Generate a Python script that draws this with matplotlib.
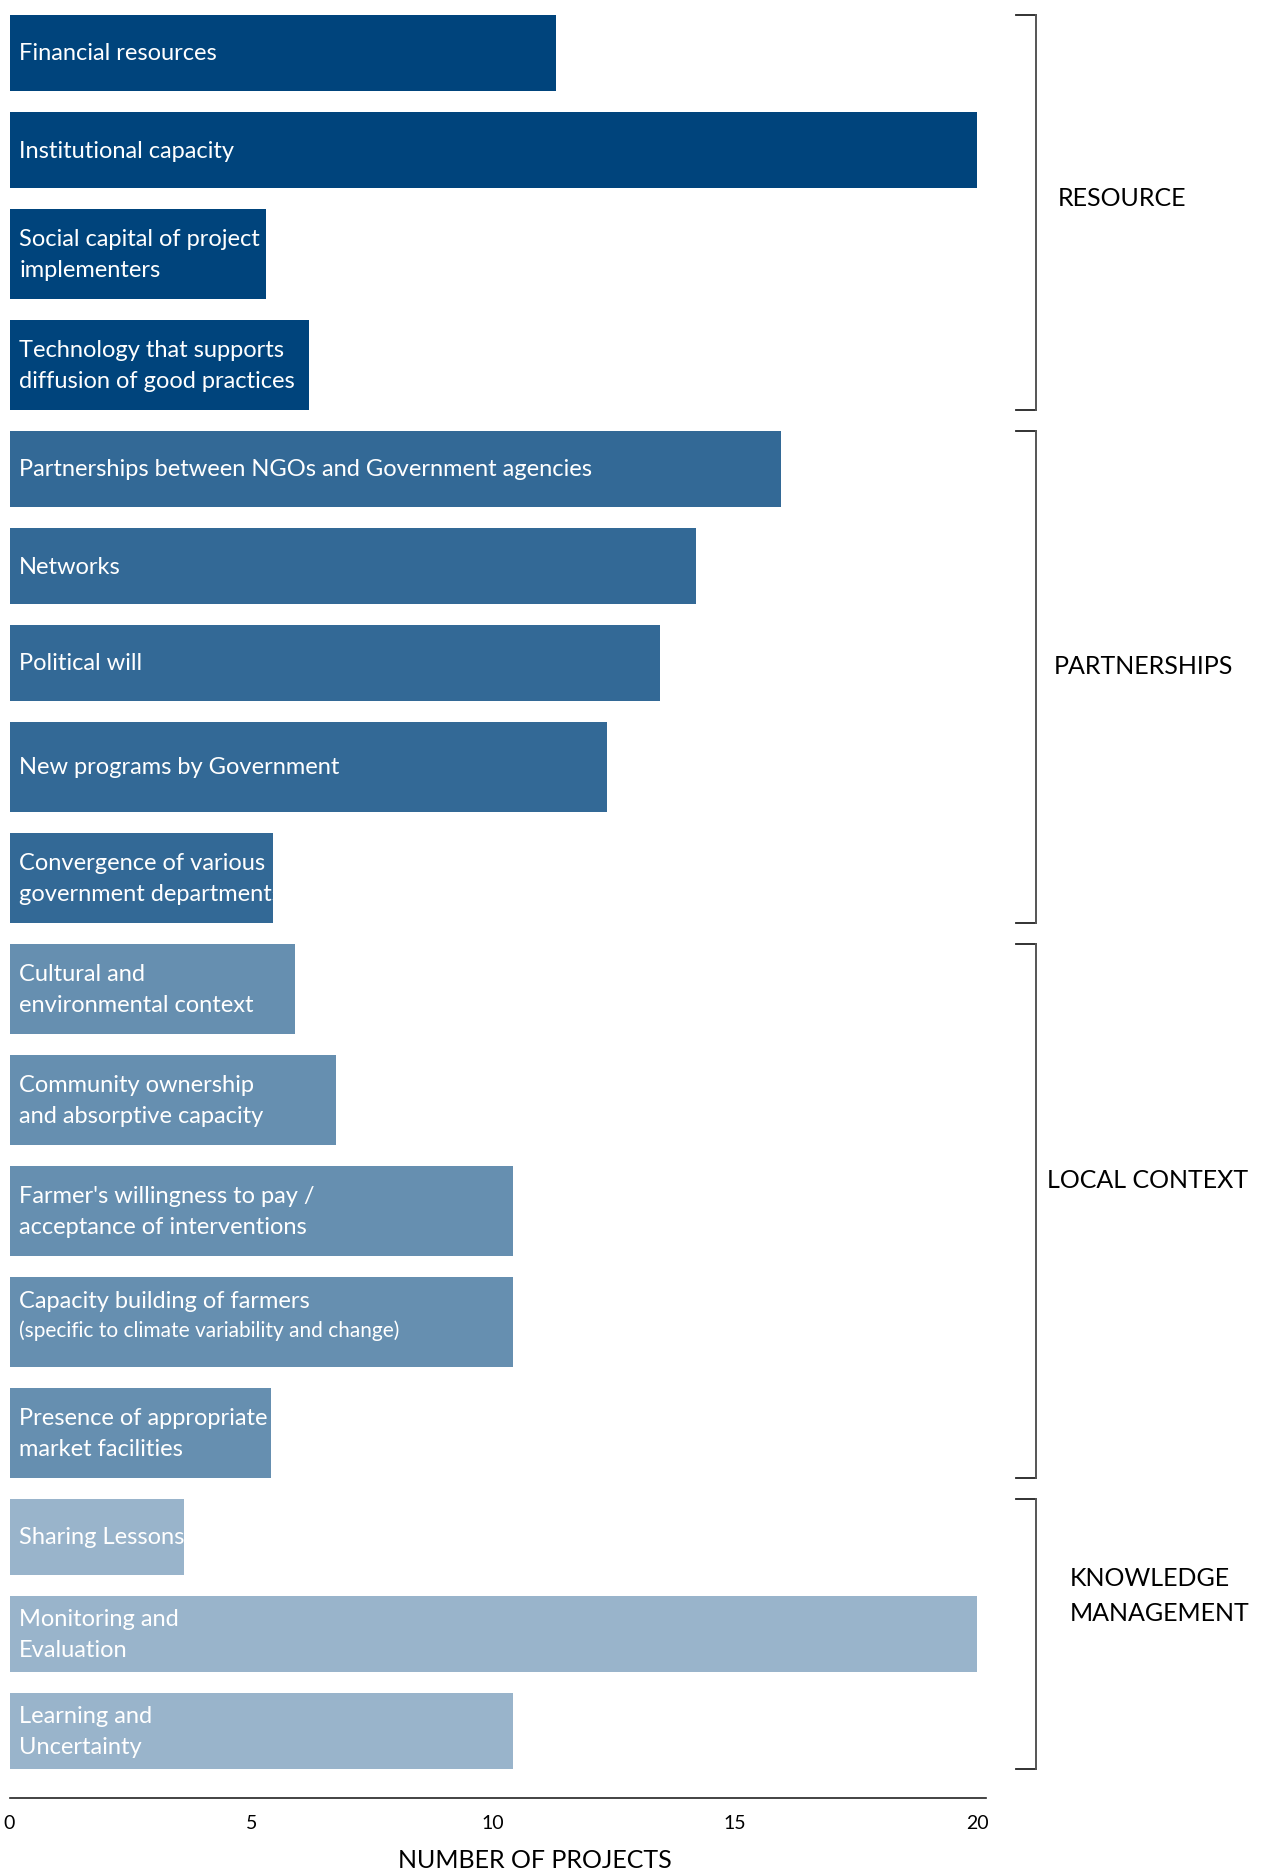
import matplotlib.pyplot as plt
from matplotlib.transforms import blended_transform_factory

# projects per factor, grouped by theme
categories = [
    "Financial resources",
    "Institutional capacity",
    "Social capital of project\nimplementers",
    "Technology that supports\ndiffusion of good practices",
    "Partnerships between NGOs and Government agencies",
    "Networks",
    "Political will",
    "New programs by Government",
    "Convergence of various\ngovernment departments",
    "Cultural and\nenvironmental context",
    "Community ownership\nand absorptive capacity",
    "Farmer's willingness to pay /\nacceptance of interventions",
    "Capacity building of farmers",
    "Presence of appropriate\nmarket facilities",
    "Sharing Lessons",
    "Monitoring and\nEvaluation",
    "Learning and\nUncertainty",
]
notes = [""] * 12 + ["(specific to climate variability and change)"] + [""] * 4
values = [11.3, 20, 5.3, 6.2, 15.95, 14.2, 13.45, 12.35, 5.45,
          5.9, 6.75, 10.4, 10.4, 5.4, 3.6, 20, 10.4]

groups = ["RESOURCE", "PARTNERSHIPS", "LOCAL CONTEXT", "KNOWLEDGE\nMANAGEMENT"]
group_sizes = [4, 5, 5, 3]
group_colors = ["#00447C", "#336996", "#668FB0", "#99B4CB"]

xticks = [0, 5, 10, 15, 20]

# layout (pixels)
W, H = 1263, 1872
row_kind = "SSTTSSSTTTTTTTSSS"   # S = short row, T = tall row
row_h = {"S": 76, "T": 90}
gap = 21.0
label_x = [1058, 1054, 1047, 1070]
label_dy = [-14, -11, -31, -38]

fig = plt.figure(figsize=(W / 100, H / 100), dpi=100)
ax = fig.add_axes([9.5 / W, 1 - 1798 / H, (986 - 9.5) / W, 1798 / H])
ax.set_xlim(0, 20 * (986 - 9.5) / (977 - 9.5))
ax.set_ylim(1798, 0)

heights = [row_h[k] for k in row_kind]
tops = []
y = 15.0
for h in heights:
    tops.append(y)
    y += h + gap
centers = [t + h / 2 for t, h in zip(tops, heights)]

colors = []
for c, n in zip(group_colors, group_sizes):
    colors += [c] * n

bars = ax.barh(centers, values, height=heights, color=colors, left=0)

font = ["Lato", "DejaVu Sans"]
for i, (lab, note) in enumerate(zip(categories, notes)):
    if note:
        t1 = ax.text(0.2, centers[i] - 21, lab, color="white", fontsize=17,
                     va="center", ha="left", family=font)
        t2 = ax.text(0.2, centers[i] + 9, note, color="white", fontsize=15,
                     va="center", ha="left", family=font)
        t1.set_clip_path(bars[i])
        t2.set_clip_path(bars[i])
    else:
        t = ax.text(0.2, centers[i] + 1, lab, color="white", fontsize=17,
                    va="center", ha="left", linespacing=1.55, family=font)
        t.set_clip_path(bars[i])

# group brackets on the right
trans = blended_transform_factory(fig.transFigure, ax.transData)
start = 0
for g, (name, n) in enumerate(zip(groups, group_sizes)):
    top = tops[start]
    bottom = tops[start + n - 1] + heights[start + n - 1]
    x0, x1 = 1016 / W, 1036 / W
    ax.plot([x0, x1], [top, top], transform=trans, clip_on=False,
            color="#222222", lw=1.3)
    ax.plot([x0, x1], [bottom, bottom], transform=trans, clip_on=False,
            color="#222222", lw=1.3)
    ax.plot([x1, x1], [top, bottom], transform=trans, clip_on=False,
            color="#555555", lw=1.4)
    ax.text(label_x[g] / W, (top + bottom) / 2 + label_dy[g], name,
            transform=trans, ha="left", va="center", fontsize=18,
            linespacing=1.6, family=font, color="black")
    start += n

ax.set_xticks(xticks)
ax.set_yticks([])
ax.tick_params(axis="x", length=0, pad=12, labelsize=14)
for lbl in ax.get_xticklabels():
    lbl.set_family(font)
for s in ["top", "right", "left"]:
    ax.spines[s].set_visible(False)
ax.spines["bottom"].set_color("#222222")
ax.spines["bottom"].set_linewidth(1.2)

fig.text(535 / W, 1 - 1860 / H, "NUMBER OF PROJECTS", ha="center", va="center",
         fontsize=18, family=font)

plt.savefig("out.png", dpi=100)
